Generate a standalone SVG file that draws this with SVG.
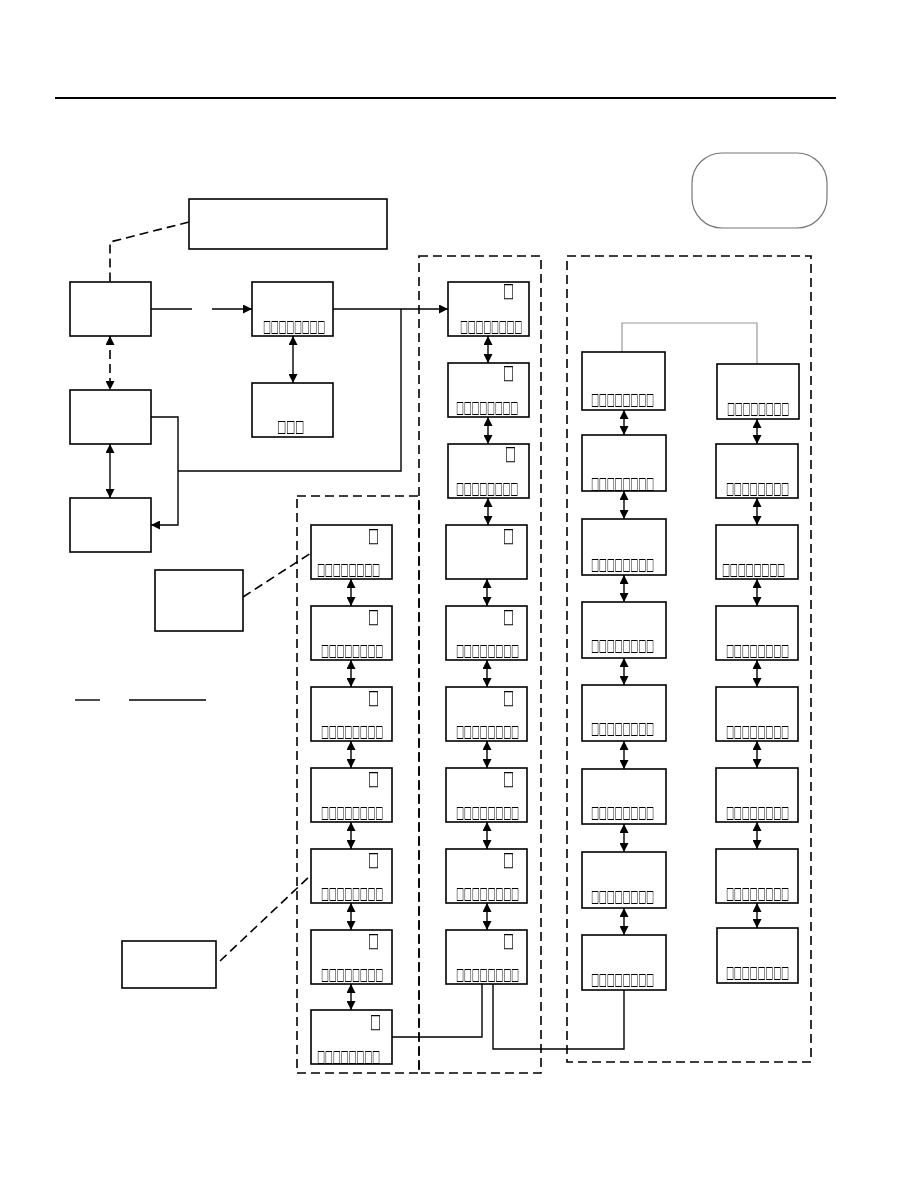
<svg xmlns="http://www.w3.org/2000/svg" width="918" height="1188" viewBox="0 0 918 1188">
<style>
.n{fill:#fff;stroke:#000;stroke-width:1.6}
.c{fill:none;stroke:#000;stroke-width:1.4}
.d{fill:none;stroke:#000;stroke-width:1.6;stroke-dasharray:9 5}
.t{font-family:"DejaVu Sans",sans-serif;font-size:17px;fill:#000;filter:url(#gr)}
.s{font-family:"DejaVu Sans",sans-serif;font-size:20px;fill:#000;filter:url(#gr)}
</style>
<defs>
<filter id="gr" x="-10%" y="-30%" width="120%" height="160%"><feOffset dx="0" dy="0"/></filter>
<marker id="ah" viewBox="0 0 10 10" refX="10" refY="5" markerWidth="10" markerHeight="9" markerUnits="userSpaceOnUse" orient="auto-start-reverse"><path d="M0,0 L10,5 L0,10 z" fill="#000"/></marker>
</defs>
<rect width="918" height="1188" fill="#fff"/>
<line x1="55" y1="98" x2="836" y2="98" stroke="#000" stroke-width="2"/>

<g id="regions">
<rect class="d" x="419" y="256" width="122" height="817"/>
<rect class="d" x="297" y="496" width="122" height="577"/>
<rect class="d" x="567" y="256" width="244" height="806"/>
</g>

<g id="connectors">
<polyline class="d" points="189,222 110,242 110,282"/>
<line class="d" x1="110" y1="336" x2="110" y2="390" marker-start="url(#ah)" marker-end="url(#ah)"/>
<line class="c" x1="110" y1="444" x2="110" y2="498" marker-start="url(#ah)" marker-end="url(#ah)"/>
<line class="c" x1="151" y1="309" x2="192" y2="309"/>
<line class="c" x1="212" y1="309" x2="252" y2="309" marker-end="url(#ah)"/>
<line class="c" x1="333" y1="309" x2="448" y2="309" marker-end="url(#ah)"/>
<polyline class="c" points="401,309 401,471 178,471"/>
<polyline class="c" points="151,417 178,417 178,525 151,525" marker-end="url(#ah)"/>
<line class="c" x1="293" y1="336" x2="293" y2="383" marker-start="url(#ah)" marker-end="url(#ah)"/>
<line class="d" x1="243" y1="597" x2="311" y2="553"/>
<line class="d" x1="220" y1="961" x2="311" y2="875"/>
<line class="c" x1="75" y1="700" x2="100" y2="700"/>
<line class="c" x1="129" y1="700" x2="206" y2="700"/>
<line class="c" x1="351" y1="579" x2="351" y2="606" marker-start="url(#ah)" marker-end="url(#ah)"/>
<line class="c" x1="351" y1="660" x2="351" y2="687" marker-start="url(#ah)" marker-end="url(#ah)"/>
<line class="c" x1="351" y1="741" x2="351" y2="768" marker-start="url(#ah)" marker-end="url(#ah)"/>
<line class="c" x1="351" y1="822" x2="351" y2="849" marker-start="url(#ah)" marker-end="url(#ah)"/>
<line class="c" x1="351" y1="903" x2="351" y2="930" marker-start="url(#ah)" marker-end="url(#ah)"/>
<line class="c" x1="351" y1="984" x2="351" y2="1010" marker-start="url(#ah)" marker-end="url(#ah)"/>
<line class="c" x1="488" y1="336" x2="488" y2="363" marker-start="url(#ah)" marker-end="url(#ah)"/>
<line class="c" x1="488" y1="417" x2="488" y2="444" marker-start="url(#ah)" marker-end="url(#ah)"/>
<line class="c" x1="488" y1="498" x2="488" y2="525" marker-start="url(#ah)" marker-end="url(#ah)"/>
<line class="c" x1="487" y1="579" x2="487" y2="606" marker-start="url(#ah)" marker-end="url(#ah)"/>
<line class="c" x1="487" y1="660" x2="487" y2="687" marker-start="url(#ah)" marker-end="url(#ah)"/>
<line class="c" x1="487" y1="741" x2="487" y2="768" marker-start="url(#ah)" marker-end="url(#ah)"/>
<line class="c" x1="487" y1="822" x2="487" y2="849" marker-start="url(#ah)" marker-end="url(#ah)"/>
<line class="c" x1="487" y1="903" x2="487" y2="930" marker-start="url(#ah)" marker-end="url(#ah)"/>
<line class="c" x1="624" y1="410" x2="624" y2="435" marker-start="url(#ah)" marker-end="url(#ah)"/>
<line class="c" x1="624" y1="491" x2="624" y2="519" marker-start="url(#ah)" marker-end="url(#ah)"/>
<line class="c" x1="624" y1="575" x2="624" y2="602" marker-start="url(#ah)" marker-end="url(#ah)"/>
<line class="c" x1="624" y1="658" x2="624" y2="685" marker-start="url(#ah)" marker-end="url(#ah)"/>
<line class="c" x1="624" y1="741" x2="624" y2="769" marker-start="url(#ah)" marker-end="url(#ah)"/>
<line class="c" x1="624" y1="824" x2="624" y2="852" marker-start="url(#ah)" marker-end="url(#ah)"/>
<line class="c" x1="624" y1="908" x2="624" y2="935" marker-start="url(#ah)" marker-end="url(#ah)"/>
<line class="c" x1="757" y1="419" x2="757" y2="444" marker-start="url(#ah)" marker-end="url(#ah)"/>
<line class="c" x1="757" y1="498" x2="757" y2="525" marker-start="url(#ah)" marker-end="url(#ah)"/>
<line class="c" x1="757" y1="579" x2="757" y2="606" marker-start="url(#ah)" marker-end="url(#ah)"/>
<line class="c" x1="757" y1="660" x2="757" y2="687" marker-start="url(#ah)" marker-end="url(#ah)"/>
<line class="c" x1="757" y1="741" x2="757" y2="768" marker-start="url(#ah)" marker-end="url(#ah)"/>
<line class="c" x1="757" y1="822" x2="757" y2="849" marker-start="url(#ah)" marker-end="url(#ah)"/>
<line class="c" x1="757" y1="903" x2="757" y2="928" marker-start="url(#ah)" marker-end="url(#ah)"/>
<polyline fill="none" stroke="#999" stroke-width="1.2" points="622,352 622,323 757,323 757,364"/>
<polyline class="c" points="392,1037 482,1037 482,984"/>
<polyline class="c" points="493,984 493,1049 624,1049 624,990"/>
</g>

<g id="legend-box"><rect x="692" y="153" width="135" height="75" rx="30" fill="#fff" stroke="#777" stroke-width="1.2"/></g>
<g id="top-note"><rect class="n" x="189" y="199" width="198" height="50"/></g>
<g id="a"><rect class="n" x="70" y="282" width="81" height="54"/></g>
<g id="d"><rect class="n" x="70" y="390" width="81" height="54"/></g>
<g id="e"><rect class="n" x="70" y="498" width="81" height="54"/></g>
<g id="b"><rect class="n" x="252" y="282" width="81" height="54"/><text class="t" x="263" y="332" textLength="62" lengthAdjust="spacingAndGlyphs">□□□□□□□□</text></g>
<g id="b2"><rect class="n" x="252" y="383" width="81" height="54"/><text class="t" x="277" y="432" textLength="27" lengthAdjust="spacingAndGlyphs">□□□</text></g>
<g id="f"><rect class="n" x="155" y="570" width="88" height="61"/></g>
<g id="g"><rect class="n" x="122" y="941" width="94" height="47"/></g>

<g id="c1-1"><rect class="n" x="311" y="525" width="81" height="54"/><text class="s" x="368" y="542" textLength="11" lengthAdjust="spacingAndGlyphs">□</text><text class="t" x="317" y="575" textLength="63" lengthAdjust="spacingAndGlyphs">□□□□□□□□</text></g>
<g id="c1-2"><rect class="n" x="311" y="606" width="81" height="54"/><text class="s" x="368" y="623" textLength="11" lengthAdjust="spacingAndGlyphs">□</text><text class="t" x="321" y="656" textLength="62" lengthAdjust="spacingAndGlyphs">□□□□□□□□</text></g>
<g id="c1-3"><rect class="n" x="311" y="687" width="81" height="54"/><text class="s" x="368" y="704" textLength="11" lengthAdjust="spacingAndGlyphs">□</text><text class="t" x="321" y="737" textLength="62" lengthAdjust="spacingAndGlyphs">□□□□□□□□</text></g>
<g id="c1-4"><rect class="n" x="311" y="768" width="81" height="54"/><text class="s" x="368" y="785" textLength="11" lengthAdjust="spacingAndGlyphs">□</text><text class="t" x="321" y="818" textLength="62" lengthAdjust="spacingAndGlyphs">□□□□□□□□</text></g>
<g id="c1-5"><rect class="n" x="311" y="849" width="81" height="54"/><text class="s" x="368" y="866" textLength="11" lengthAdjust="spacingAndGlyphs">□</text><text class="t" x="321" y="899" textLength="62" lengthAdjust="spacingAndGlyphs">□□□□□□□□</text></g>
<g id="c1-6"><rect class="n" x="311" y="930" width="81" height="54"/><text class="s" x="368" y="947" textLength="11" lengthAdjust="spacingAndGlyphs">□</text><text class="t" x="321" y="980" textLength="62" lengthAdjust="spacingAndGlyphs">□□□□□□□□</text></g>
<g id="c1-7"><rect class="n" x="311" y="1010" width="81" height="54"/><text class="s" x="370" y="1028" textLength="11" lengthAdjust="spacingAndGlyphs">□</text><text class="t" x="317" y="1062" textLength="63" lengthAdjust="spacingAndGlyphs">□□□□□□□□</text></g>

<g id="c2-1"><rect class="n" x="448" y="282" width="81" height="54"/><text class="s" x="503" y="297" textLength="11" lengthAdjust="spacingAndGlyphs">□</text><text class="t" x="460" y="332" textLength="62" lengthAdjust="spacingAndGlyphs">□□□□□□□□</text></g>
<g id="c2-2"><rect class="n" x="448" y="363" width="81" height="54"/><text class="s" x="503" y="379" textLength="11" lengthAdjust="spacingAndGlyphs">□</text><text class="t" x="456" y="413" textLength="62" lengthAdjust="spacingAndGlyphs">□□□□□□□□</text></g>
<g id="c2-3"><rect class="n" x="448" y="444" width="81" height="54"/><text class="s" x="505" y="460" textLength="11" lengthAdjust="spacingAndGlyphs">□</text><text class="t" x="456" y="494" textLength="62" lengthAdjust="spacingAndGlyphs">□□□□□□□□</text></g>
<g id="c2-4"><rect class="n" x="446" y="525" width="81" height="54"/><text class="s" x="503" y="542" textLength="11" lengthAdjust="spacingAndGlyphs">□</text></g>
<g id="c2-5"><rect class="n" x="446" y="606" width="81" height="54"/><text class="s" x="503" y="623" textLength="11" lengthAdjust="spacingAndGlyphs">□</text><text class="t" x="456" y="656" textLength="63" lengthAdjust="spacingAndGlyphs">□□□□□□□□</text></g>
<g id="c2-6"><rect class="n" x="446" y="687" width="81" height="54"/><text class="s" x="503" y="704" textLength="11" lengthAdjust="spacingAndGlyphs">□</text><text class="t" x="456" y="737" textLength="63" lengthAdjust="spacingAndGlyphs">□□□□□□□□</text></g>
<g id="c2-7"><rect class="n" x="446" y="768" width="81" height="54"/><text class="s" x="503" y="785" textLength="11" lengthAdjust="spacingAndGlyphs">□</text><text class="t" x="456" y="818" textLength="63" lengthAdjust="spacingAndGlyphs">□□□□□□□□</text></g>
<g id="c2-8"><rect class="n" x="446" y="849" width="81" height="54"/><text class="s" x="503" y="866" textLength="11" lengthAdjust="spacingAndGlyphs">□</text><text class="t" x="456" y="899" textLength="63" lengthAdjust="spacingAndGlyphs">□□□□□□□□</text></g>
<g id="c2-9"><rect class="n" x="446" y="930" width="81" height="54"/><text class="s" x="503" y="947" textLength="11" lengthAdjust="spacingAndGlyphs">□</text><text class="t" x="456" y="980" textLength="63" lengthAdjust="spacingAndGlyphs">□□□□□□□□</text></g>

<g id="c3-1"><rect class="n" x="582" y="352" width="83" height="58"/><text class="t" x="591" y="405" textLength="63" lengthAdjust="spacingAndGlyphs">□□□□□□□□</text></g>
<g id="c3-2"><rect class="n" x="582" y="435" width="84" height="56"/><text class="t" x="591" y="489" textLength="63" lengthAdjust="spacingAndGlyphs">□□□□□□□□</text></g>
<g id="c3-3"><rect class="n" x="582" y="519" width="84" height="56"/><text class="t" x="591" y="570" textLength="63" lengthAdjust="spacingAndGlyphs">□□□□□□□□</text></g>
<g id="c3-4"><rect class="n" x="582" y="602" width="84" height="56"/><text class="t" x="591" y="651" textLength="63" lengthAdjust="spacingAndGlyphs">□□□□□□□□</text></g>
<g id="c3-5"><rect class="n" x="582" y="685" width="84" height="56"/><text class="t" x="591" y="734" textLength="63" lengthAdjust="spacingAndGlyphs">□□□□□□□□</text></g>
<g id="c3-6"><rect class="n" x="582" y="769" width="84" height="55"/><text class="t" x="591" y="818" textLength="63" lengthAdjust="spacingAndGlyphs">□□□□□□□□</text></g>
<g id="c3-7"><rect class="n" x="582" y="852" width="84" height="56"/><text class="t" x="591" y="902" textLength="63" lengthAdjust="spacingAndGlyphs">□□□□□□□□</text></g>
<g id="c3-8"><rect class="n" x="582" y="935" width="84" height="55"/><text class="t" x="591" y="985" textLength="63" lengthAdjust="spacingAndGlyphs">□□□□□□□□</text></g>

<g id="c4-1"><rect class="n" x="717" y="364" width="82" height="55"/><text class="t" x="727" y="414" textLength="62" lengthAdjust="spacingAndGlyphs">□□□□□□□□</text></g>
<g id="c4-2"><rect class="n" x="716" y="444" width="82" height="54"/><text class="t" x="726" y="494" textLength="63" lengthAdjust="spacingAndGlyphs">□□□□□□□□</text></g>
<g id="c4-3"><rect class="n" x="716" y="525" width="82" height="54"/><text class="t" x="722" y="575" textLength="63" lengthAdjust="spacingAndGlyphs">□□□□□□□□</text></g>
<g id="c4-4"><rect class="n" x="716" y="606" width="82" height="54"/><text class="t" x="726" y="656" textLength="63" lengthAdjust="spacingAndGlyphs">□□□□□□□□</text></g>
<g id="c4-5"><rect class="n" x="716" y="687" width="82" height="54"/><text class="t" x="726" y="737" textLength="63" lengthAdjust="spacingAndGlyphs">□□□□□□□□</text></g>
<g id="c4-6"><rect class="n" x="716" y="768" width="82" height="54"/><text class="t" x="726" y="818" textLength="63" lengthAdjust="spacingAndGlyphs">□□□□□□□□</text></g>
<g id="c4-7"><rect class="n" x="716" y="849" width="82" height="54"/><text class="t" x="726" y="899" textLength="63" lengthAdjust="spacingAndGlyphs">□□□□□□□□</text></g>
<g id="c4-8"><rect class="n" x="717" y="928" width="81" height="55"/><text class="t" x="726" y="978" textLength="63" lengthAdjust="spacingAndGlyphs">□□□□□□□□</text></g>
</svg>
